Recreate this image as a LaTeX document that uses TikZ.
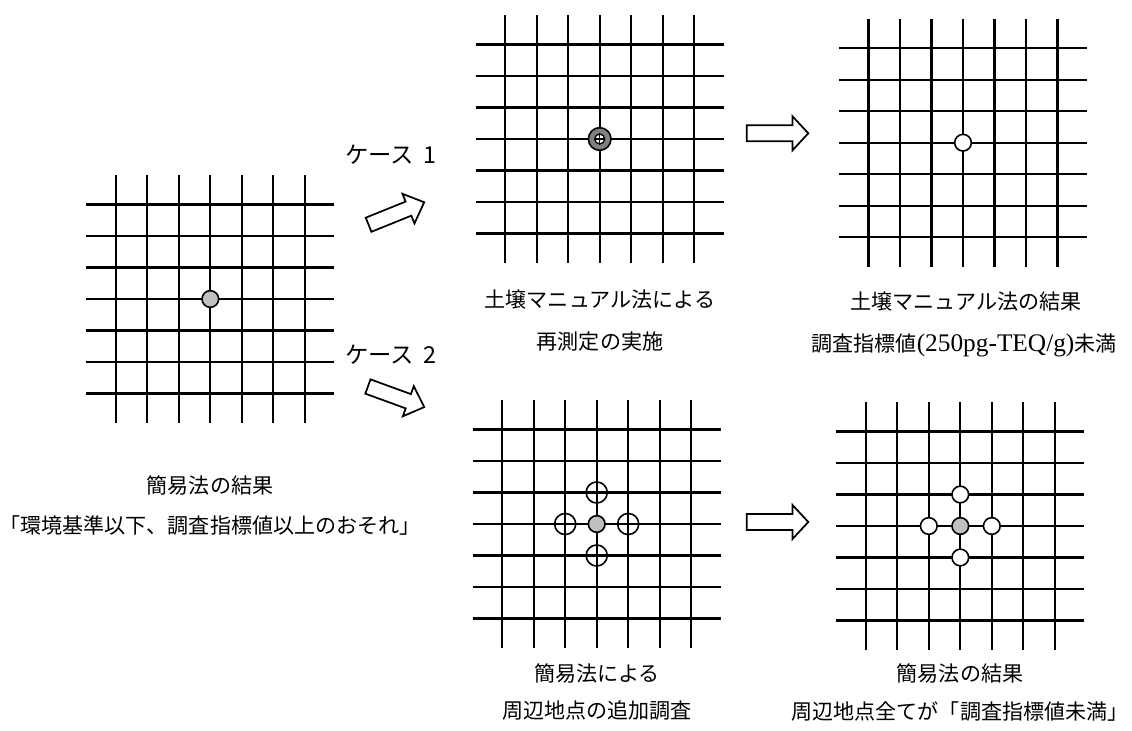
\documentclass[tikz,border=0pt]{standalone}
\usepackage{fontspec}
\newfontfamily\jp{Noto Sans CJK JP}
\newfontfamily\latserif{Liberation Serif}
\tikzset{
  gline/.style={line width=1.6pt, black},
  grid7/.pic={
    \foreach \i in {-3,...,3}{
      \draw[gline] (\i*31.5,-124) -- (\i*31.5,124);
      \draw[gline] (-124,\i*31.5) -- (124,\i*31.5);
    }
  },
  pt/.style={circle, draw=black, line width=1.2pt, inner sep=0pt, minimum size=12.5pt},
  ptgray/.style={pt, fill=black!25},
  ptwhite/.style={pt, fill=white},
  ptopen/.style={circle, draw=black, line width=1.2pt, inner sep=0pt, minimum size=15.8pt},
  ptdark/.style={circle, draw=black, line width=1.2pt, fill=black!50, inner sep=0pt, minimum size=17pt},
  ptinner/.style={circle, draw=black, line width=1.0pt, fill=white, inner sep=0pt, minimum size=7.5pt},
  arrowline/.style={draw=black, line width=1.3pt, fill=white, line join=miter},
  diagarrow/.pic={
    \draw[arrowline] (-30,-7.6) -- (13,-7.6) -- (13,-16) -- (30,0) -- (13,16) -- (13,7.6) -- (-30,7.6) -- cycle;
  },
  horarrow/.pic={
    \draw[arrowline] (-30.8,-8) -- (15,-8) -- (15,-17) -- (30.8,0) -- (15,17) -- (15,8) -- (-30.8,8) -- cycle;
  },
  lab/.style={font=\jp\fontsize{15.8pt}{18pt}\selectfont, inner sep=0pt},
  caselab/.style={font=\jp\fontsize{17.5pt}{20pt}\selectfont, inner sep=0pt, anchor=west},
}
\begin{document}
\begin{tikzpicture}[x=0.75pt,y=-0.75pt]
\path[use as bounding box] (0,0) rectangle (1132,731);

% grids
\pic at (210.3,299) {grid7};
\pic at (599.7,139) {grid7};
\pic at (963,142.7) {grid7};
\pic at (596.7,524) {grid7};
\pic at (960.3,526) {grid7};

% grid A point
\node[ptgray] (a0) at (210.3,299) {};

% grid B point
\node[ptdark] (b0) at (599.7,139) {};
\node[ptinner] (b1) at (599.7,139) {};
\draw[line width=1.0pt] (b1.north) -- (b1.south) (b1.west) -- (b1.east);

% grid C point
\node[ptwhite] (c0) at (963,142.7) {};

% grid D points
\node[ptgray] (d0) at (596.7,524) {};
\node[ptopen] (d1) at (565.2,524) {};
\node[ptopen] (d2) at (628.2,524) {};
\node[ptopen] (d3) at (596.7,492.5) {};
\node[ptopen] (d4) at (596.7,555.5) {};

% grid E points
\node[ptgray] (e0) at (960.3,526) {};
\node[ptwhite] (e1) at (928.8,526) {};
\node[ptwhite] (e2) at (991.8,526) {};
\node[ptwhite] (e3) at (960.3,494.5) {};
\node[ptwhite] (e4) at (960.3,557.5) {};

% block arrows
\pic[rotate=22] at (396.4,213.5) {diagarrow};
\pic[rotate=-20] at (396.1,396.8) {diagarrow};
\pic at (777.5,133.3) {horarrow};
\pic at (777.5,522) {horarrow};

% case labels
\node[caselab] (k1) at (345,155) {ケース\hspace{0.4em}1};
\node[caselab] (k2) at (345,355) {ケース\hspace{0.4em}2};

% captions
\node[lab] (tA1) at (210,485) {簡易法の結果};
\node[lab] (tA2) at (210,525) {「環境基準以下、調査指標値以上のおそれ」};
\node[lab] (tB1) at (600,300) {土壌マニュアル法による};
\node[lab] (tB2) at (600,342) {再測定の実施};
\node[lab] (tC1) at (966,302) {土壌マニュアル法の結果};
\node[lab] (tC2) at (964,345) {調査指標値{\latserif\fontsize{19pt}{18pt}\selectfont(250pg-TEQ/g)}未満};
\node[lab] (tD1) at (597,673) {簡易法による};
\node[lab] (tD2) at (597,711) {周辺地点の追加調査};
\node[lab] (tE1) at (960,673) {簡易法の結果};
\node[lab] (tE2) at (960,711) {周辺地点全てが「調査指標値未満」};
\end{tikzpicture}
\end{document}
